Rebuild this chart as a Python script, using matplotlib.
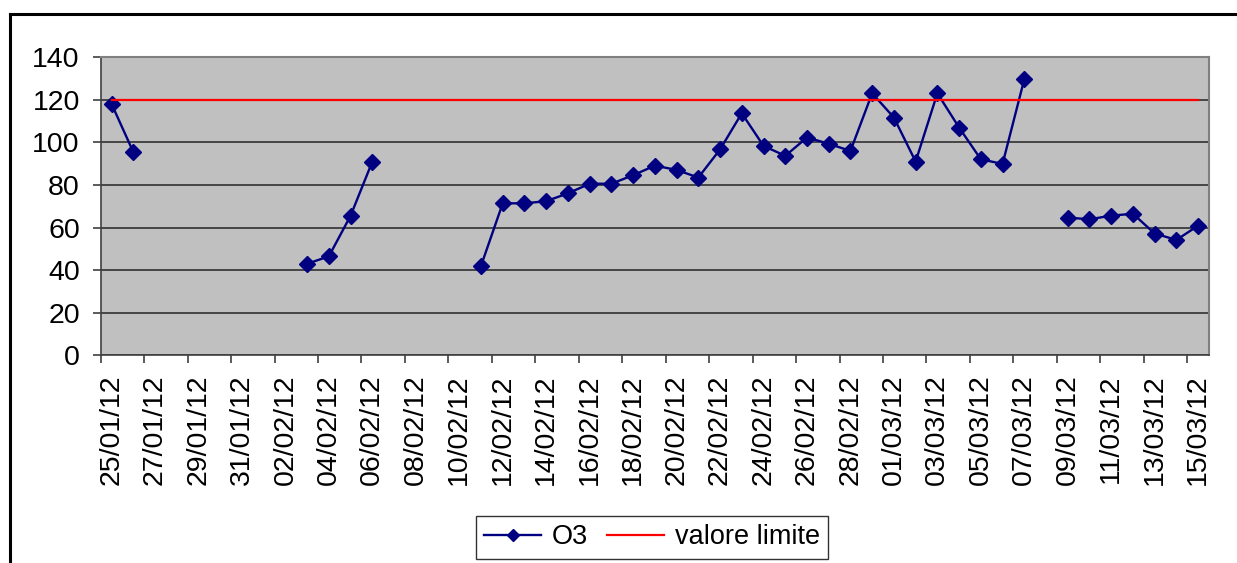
import numpy as np
import pandas as pd
import matplotlib
matplotlib.use("Agg")
import matplotlib.pyplot as plt
from matplotlib.lines import Line2D

plt.rcParams['font.family'] = ['Liberation Sans', 'DejaVu Sans']

# daily dates 25/01/12 .. 15/03/12
dates = pd.date_range('2012-01-25', '2012-03-15', freq='D')
date_labels = [d.strftime('%d/%m/%y') for d in dates]

nan = np.nan
o3 = [118.1, 95.5,
      nan, nan, nan, nan, nan, nan, nan,
      43.0, 46.5, 65.6, 91.0,
      nan, nan, nan, nan,
      42.0, 71.4, 71.4, 72.4, 76.1, 80.6, 80.6, 84.6, 89.1, 87.1, 83.5,
      96.7, 113.7, 98.4, 93.7, 102.3, 99.4, 96.0, 123.1,
      111.7, 91.0, 123.1, 107.0, 92.1, 89.9, 129.7,
      nan,
      64.7, 63.9, 65.6, 66.5, 57.2, 54.2, 60.9]
limite = [120] * len(dates)

x = np.arange(len(dates))

W, H = 1237, 563
fig = plt.figure(figsize=(W / 100, H / 100), dpi=100)
ax = fig.add_axes([100.7 / W, 1 - 355.3 / H, 1108.3 / W, 298 / H])
ax.set_facecolor('#C0C0C0')

ax.plot(x, o3, color='#000080', lw=1.7, marker='D', ms=8.5, label='O3')
ax.plot(x, limite, color='#FF0000', lw=1.6, label='valore limite')

ax.set_xlim(-0.5, len(dates) - 0.5)
ax.set_ylim(0, 140)
ax.set_yticks(np.arange(0, 141, 20))
ax.yaxis.grid(True, color='#303030', lw=1.2)
ax.set_axisbelow(True)

# labels at every other category centre, tick marks at category boundaries
ax.set_xticks(x[::2])
ax.set_xticklabels(date_labels[::2], rotation=90)
ax.set_xticks(np.arange(-0.5, len(dates), 2), minor=True)
ax.tick_params(axis='x', which='major', length=0, pad=14, labelsize=20.5)
ax.tick_params(axis='x', which='minor', length=6, width=1.2, color='#404040', direction='out')
ax.tick_params(axis='y', length=6, width=1.2, color='#404040', pad=9, labelsize=20.5)

for s in ['top', 'right']:
    ax.spines[s].set_color('#808080')
    ax.spines[s].set_linewidth(1.5)
for s in ['left', 'bottom']:
    ax.spines[s].set_color('#404040')
    ax.spines[s].set_linewidth(1.2)

leg = fig.legend(loc='center', bbox_to_anchor=(652 / W, 1 - 537.5 / H), ncol=2,
                 fontsize=19.5, frameon=True, fancybox=False, edgecolor='black',
                 handlelength=2.1, handletextpad=0.4, columnspacing=0.7,
                 borderpad=0.3, markerscale=0.75)
leg.get_frame().set_linewidth(1.0)

# chart area border
fig.add_artist(Line2D([10 / W, 10 / W], [0, 1 - 14 / H], color='black', lw=2.2,
                      transform=fig.transFigure))
fig.add_artist(Line2D([10 / W, 1], [1 - 14 / H, 1 - 14 / H], color='black', lw=2.2,
                      transform=fig.transFigure))

fig.savefig('out.png', dpi=100)
